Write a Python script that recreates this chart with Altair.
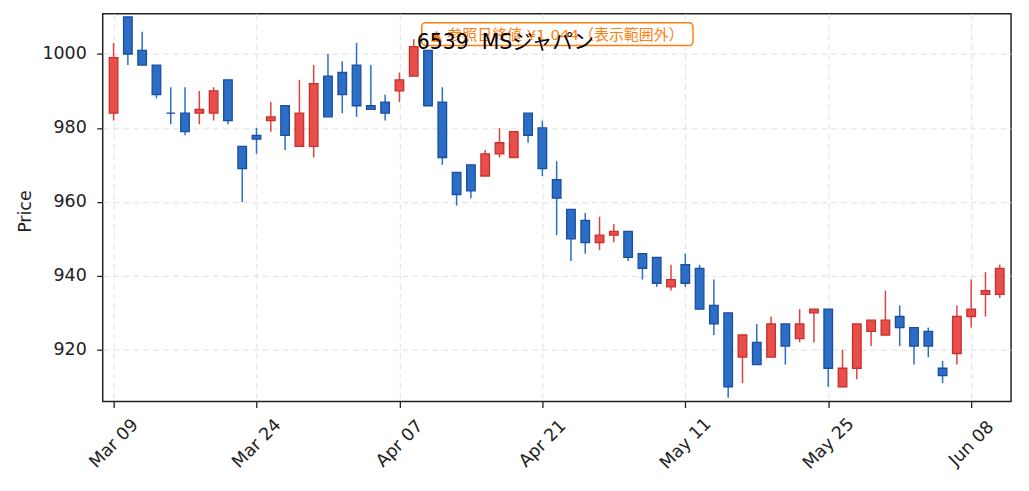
import altair as alt
import pandas as pd

# ---- data ----
dates = [
    "2026-03-09", "2026-03-10", "2026-03-11", "2026-03-12", "2026-03-13",
    "2026-03-16", "2026-03-17", "2026-03-18", "2026-03-19", "2026-03-23",
    "2026-03-24", "2026-03-25", "2026-03-26", "2026-03-27", "2026-03-30",
    "2026-03-31", "2026-04-01", "2026-04-02", "2026-04-03", "2026-04-06",
    "2026-04-07", "2026-04-08", "2026-04-09", "2026-04-10", "2026-04-13",
    "2026-04-14", "2026-04-15", "2026-04-16", "2026-04-17", "2026-04-20",
    "2026-04-21", "2026-04-22", "2026-04-23", "2026-04-24", "2026-04-27",
    "2026-04-28", "2026-04-30", "2026-05-01", "2026-05-07", "2026-05-08",
    "2026-05-11", "2026-05-12", "2026-05-13", "2026-05-14", "2026-05-15",
    "2026-05-18", "2026-05-19", "2026-05-20", "2026-05-21", "2026-05-22",
    "2026-05-25", "2026-05-26", "2026-05-27", "2026-05-28", "2026-05-29",
    "2026-06-01", "2026-06-02", "2026-06-03", "2026-06-04", "2026-06-05",
    "2026-06-08", "2026-06-09", "2026-06-10",
]
opens = [984, 1010, 1001, 997, 984, 984, 984, 984, 993, 975,
         978, 982, 986, 975, 975, 994, 995, 997, 986, 987,
         990, 994, 1001, 987, 968, 970, 967, 973, 972, 984,
         980, 966, 958, 955, 949, 951, 952, 946, 945, 937,
         943, 942, 932, 930, 918, 922, 918, 927, 923, 930,
         931, 910, 915, 925, 924, 929, 926, 925, 915, 919,
         929, 935, 935]
highs = [1003, 1010, 1006, 997, 991, 991, 990, 991, 993, 975,
         980, 987, 986, 993, 997, 1000, 998, 1003, 997, 989,
         995, 1004, 1001, 991, 968, 970, 974, 980, 979, 984,
         982, 971, 958, 957, 956, 954, 952, 946, 945, 943,
         946, 943, 939, 930, 924, 927, 929, 927, 931, 931,
         931, 920, 927, 928, 936, 932, 926, 926, 917, 932,
         939, 941, 943]
lows = [982, 997, 997, 988, 981, 978, 981, 982, 981, 960,
        973, 979, 974, 975, 972, 983, 984, 983, 985, 982,
        987, 994, 986, 970, 959, 961, 967, 972, 972, 976,
        967, 951, 944, 946, 947, 949, 944, 939, 937, 936,
        937, 931, 924, 907, 911, 916, 918, 916, 922, 922,
        910, 910, 912, 921, 924, 921, 916, 918, 911, 916,
        926, 929, 934]
closes = [999, 1000, 997, 989, 984, 979, 985, 990, 982, 969,
          977, 983, 978, 984, 992, 983, 989, 986, 985, 984,
          993, 1002, 986, 972, 962, 963, 973, 976, 979, 978,
          969, 961, 950, 949, 951, 952, 945, 942, 938, 939,
          938, 931, 927, 910, 924, 916, 927, 921, 927, 931,
          915, 915, 927, 928, 928, 926, 921, 921, 913, 929,
          931, 936, 942]

chart_title = "6539\u00a0\u00a0MSジャパン"
note_text = "▲ 参照日終値 ¥1,044（表示範囲外）"
y_label = "Price"
y_tick_values = [920, 940, 960, 980, 1000]
x_tick_step = 10

# ---- table ----
n = len(dates)
df = pd.DataFrame({
    "i": list(range(n)),
    "date": dates,
    "open": opens,
    "high": highs,
    "low": lows,
    "close": closes,
})
df["dir"] = ["up" if c > o else "down" for o, c in zip(opens, closes)]

tick_idx = list(range(0, n, x_tick_step))
tick_text = [pd.Timestamp(dates[i]).strftime("%b %d") for i in tick_idx]
label_expr = "[" + ",".join("'%s'" % t for t in tick_text) + "][round(datum.value / %d)]" % x_tick_step

FONT = "DejaVu Sans, Noto Sans CJK JP"
ORANGE = "#ff7f0e"

xscale = alt.Scale(domain=[-0.41, 62.44], nice=False, zero=False)
yscale = alt.Scale(domain=[906.0, 1010.9], nice=False, zero=False)

x_axis = alt.Axis(values=tick_idx, labelExpr=label_expr, labelAngle=315,
                  labelAlign="center", labelBaseline="middle", labelPadding=36,
                  tickSize=6, labelFlush=False, grid=True, title=None)
y_axis = alt.Axis(values=y_tick_values, format="d", tickSize=6, labelPadding=10.5, grid=True,
                  titleX=-68, titleY=198, titleAngle=270)

dir_domain = ["up", "down"]

wicks = alt.Chart(df).mark_rule(strokeWidth=1.5).encode(
    x=alt.X("i:Q", scale=xscale, axis=x_axis),
    y=alt.Y("low:Q", scale=yscale, axis=y_axis, title=y_label),
    y2="high:Q",
    color=alt.Color("dir:N", scale=alt.Scale(domain=dir_domain, range=["#e2423e", "#2b6fca"]), legend=None),
)

bodies = alt.Chart(df).mark_bar(size=8.6, strokeWidth=1.3).encode(
    x=alt.X("i:Q", scale=xscale),
    y=alt.Y("open:Q", scale=yscale, title=y_label),
    y2="close:Q",
    fill=alt.Fill("dir:N", scale=alt.Scale(domain=dir_domain, range=["#e84e4a", "#2c6ec5"]), legend=None),
    stroke=alt.Stroke("dir:N", scale=alt.Scale(domain=dir_domain, range=["#c7302e", "#1a4e9e"]), legend=None),
)

note_df = pd.DataFrame({"note": [note_text]})
note_box = alt.Chart(note_df).mark_rect(
    cornerRadius=4, fill="white", fillOpacity=0.85, stroke=ORANGE, strokeWidth=1.5
).encode(x=alt.value(320), x2=alt.value(592), y=alt.value(9), y2=alt.value(32))

note = alt.Chart(note_df).mark_text(
    font=FONT, fontSize=15, color=ORANGE, align="center", baseline="middle"
).encode(x=alt.value(456), y=alt.value(21), text="note:N")

chart = alt.layer(wicks, bodies, note_box, note).properties(
    width=911,
    height=389,
    title=alt.TitleParams(text=chart_title, anchor="start", frame="group", dx=315, dy=55.5,
                          offset=0, baseline="alphabetic", font=FONT, fontSize=20.5,
                          fontWeight="normal", color="#000000"),
    autosize=alt.AutoSizeParams(type="none"),
    padding={"left": 95, "top": 5, "right": 10, "bottom": 85},
).configure_view(
    stroke="#222222", strokeWidth=1.5
).configure_axis(
    domain=False, gridColor="#e6e6e6", gridDash=[6, 4], gridWidth=1.2,
    tickColor="#222222", tickWidth=1.3, labelColor="#222222",
    labelFont=FONT, labelFontSize=17.5, titleFont=FONT, titleFontSize=17.5,
    titleFontWeight="normal", titleColor="#222222",
)

chart.save("out.html", embed_options={"renderer": "svg", "actions": False})
